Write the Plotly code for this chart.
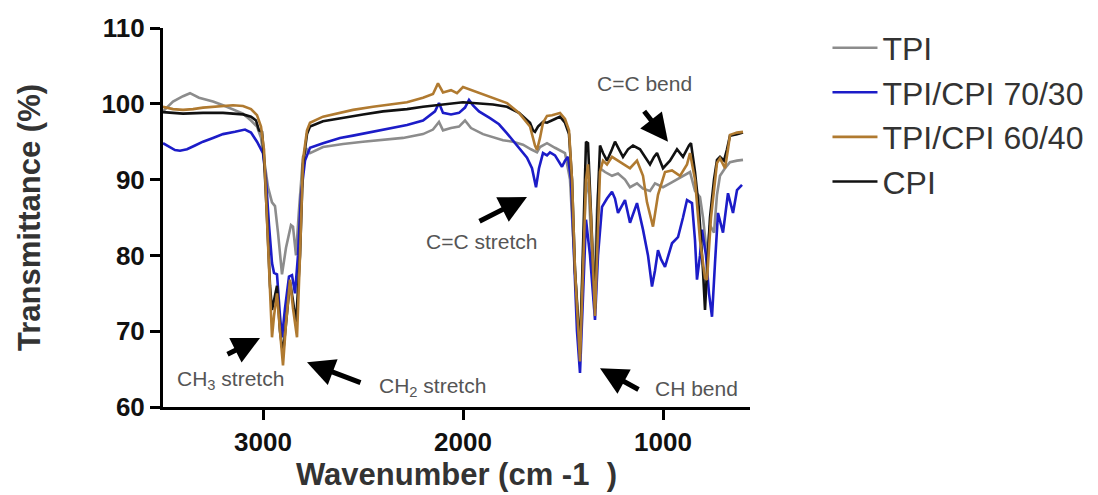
import plotly.graph_objects as go

# ---------------- data ----------------
tpi_w = [3500, 3450, 3400, 3365, 3320, 3250, 3200, 3150, 3100, 3060, 3030, 3010, 2990, 2975,
         2955, 2940, 2925, 2905, 2885, 2860, 2850, 2835, 2820, 2800, 2780, 2765, 2700, 2600,
         2500, 2400, 2300, 2200, 2150, 2120, 2100, 2060, 2020, 1990, 1960, 1900, 1850, 1800,
         1750, 1700, 1660, 1630, 1615, 1580, 1540, 1515, 1490, 1465, 1440, 1415, 1400, 1385,
         1370, 1345, 1330, 1315, 1290, 1255, 1225, 1190, 1165, 1130, 1100, 1065, 1040, 1000,
         965, 930, 900, 865, 840, 815, 800, 780, 765, 745, 730, 715, 690, 665, 630, 600]
tpi_t = [99.0, 100.3, 101.0, 101.4, 100.8, 100.3, 99.8, 99.3, 98.7, 97.8, 97.0, 95.5, 92.0, 89.0,
         87.0, 86.5, 83.0, 77.5, 81.0, 84.0, 83.8, 80.0, 86.0, 93.0, 94.0, 93.5, 94.3, 94.7,
         95.0, 95.3, 95.5, 96.0, 96.6, 97.6, 96.5, 96.8, 97.0, 97.8, 96.8, 96.0, 95.6, 95.2,
         95.0, 94.6, 94.0, 93.6, 94.3, 94.8, 94.2, 93.9, 93.5, 90.0, 78.0, 68.0, 78.0, 90.0,
         88.0, 74.0, 86.0, 91.5, 91.0, 90.5, 90.8, 90.0, 89.0, 89.5, 88.8, 88.5, 89.5, 89.0,
         89.5, 90.0, 90.5, 91.0, 88.5, 87.7, 85.0, 80.0, 84.0, 83.0, 88.0, 90.5, 91.5, 92.3, 92.5, 92.6]

b7030_w = [3500, 3470, 3440, 3415, 3380, 3340, 3300, 3250, 3200, 3140, 3090, 3060, 3030, 3000,
           2985, 2970, 2955, 2945, 2930, 2915, 2905, 2890, 2870, 2855, 2840, 2825, 2810, 2790,
           2765, 2700, 2615, 2550, 2450, 2350, 2280, 2200, 2165, 2140, 2120, 2100, 2060, 2020,
           1990, 1970, 1950, 1920, 1865, 1820, 1780, 1740, 1715, 1680, 1655, 1635, 1620, 1600,
           1580, 1565, 1540, 1505, 1490, 1475, 1460, 1445, 1430, 1415, 1400, 1385, 1365, 1340,
           1325, 1305, 1280, 1255, 1240, 1225, 1190, 1165, 1130, 1100, 1075, 1055, 1040, 1025,
           1010, 990, 955, 925, 900, 880, 855, 840, 830, 815, 805, 785, 770, 755, 740, 725,
           700, 675, 650, 630, 605]
b7030_t = [94.8, 94.3, 93.9, 93.8, 94.0, 94.5, 95.0, 95.5, 96.0, 96.3, 96.6, 96.2, 95.0, 93.5,
           90.0, 84.0, 79.0, 77.7, 77.5, 72.0, 69.2, 73.0, 77.2, 77.4, 75.0, 80.0, 88.0, 92.5,
           94.2, 94.8, 95.5, 95.8, 96.3, 96.8, 97.2, 97.8, 98.5, 99.0, 100.1, 98.8, 98.6, 98.8,
           99.5, 100.5, 99.8, 99.0, 98.1, 97.3, 96.1, 94.8, 93.9, 92.9, 91.5, 89.0, 91.5, 93.5,
           93.2, 93.6, 93.2, 91.7, 92.5, 93.0, 90.0, 80.0, 70.0, 64.5, 75.0, 84.7, 80.0, 71.5,
           80.0, 86.4, 87.5, 88.4, 87.5, 85.6, 87.3, 84.3, 86.9, 83.4, 80.0, 75.9, 78.0, 80.7,
           79.5, 78.5, 81.6, 82.4, 85.0, 87.3, 86.9, 82.0, 76.8, 80.0, 83.4, 80.0, 75.0, 71.9, 79.0, 85.6,
           83.0, 88.2, 85.6, 88.6, 89.3]

b6040_w = [3500, 3450, 3400, 3350, 3300, 3250, 3200, 3150, 3100, 3060, 3030, 3010, 2995, 2980,
           2965, 2955, 2945, 2930, 2915, 2900, 2885, 2865, 2850, 2830, 2815, 2800, 2780, 2765,
           2700, 2615, 2550, 2450, 2350, 2280, 2200, 2150, 2125, 2100, 2060, 2030, 2000, 1970,
           1950, 1900, 1850, 1780, 1720, 1665, 1640, 1630, 1615, 1600, 1580, 1555, 1515, 1490,
           1470, 1455, 1440, 1415, 1400, 1385, 1375, 1360, 1340, 1325, 1315, 1300, 1280, 1255,
           1225, 1200, 1165, 1130, 1100, 1080, 1050, 1025, 990, 955, 915, 880, 865, 840, 815,
           790, 780, 760, 730, 715, 690, 675, 665, 630, 600]
b6040_t = [99.6, 99.3, 99.2, 99.3, 99.5, 99.6, 99.7, 99.8, 99.7, 99.3, 98.5, 97.0, 94.0, 85.0,
           75.0, 69.2, 72.0, 75.0, 70.0, 65.5, 71.0, 76.8, 73.0, 69.2, 80.0, 92.6, 96.5, 97.5,
           98.3, 98.8, 99.2, 99.6, 100.0, 100.2, 100.8, 101.3, 102.7, 101.5, 101.8, 101.4, 102.2, 101.9,
           101.8, 101.2, 100.8, 100.1, 98.8, 97.0, 94.5, 93.9, 95.5, 97.5, 98.4, 98.5, 98.8, 98.0,
           96.5, 90.0, 78.0, 66.0, 78.0, 90.0, 92.0, 85.0, 72.0, 85.0, 91.0, 92.5, 92.0, 93.0,
           92.5, 92.0, 91.5, 92.5, 90.5, 87.0, 83.8, 88.0, 91.0, 91.2, 90.5, 92.0, 93.5, 90.0, 82.0,
           77.0, 76.8, 85.0, 92.2, 92.8, 91.5, 94.0, 95.9, 96.2, 96.3]

cpi_w = [3500, 3450, 3400, 3300, 3200, 3100, 3060, 3035, 3020, 3005, 2995, 2980, 2965, 2955,
         2945, 2930, 2915, 2900, 2885, 2865, 2850, 2835, 2815, 2800, 2780, 2765, 2700, 2615,
         2500, 2400, 2280, 2200, 2100, 2000, 1950, 1850, 1780, 1720, 1665, 1650, 1640, 1625,
         1600, 1580, 1540, 1515, 1490, 1470, 1455, 1440, 1415, 1400, 1385, 1375, 1355, 1340,
         1325, 1315, 1300, 1280, 1255, 1240, 1220, 1200, 1175, 1150, 1115, 1090, 1065, 1045,
         1030, 1000, 980, 965, 930, 900, 870, 860, 840, 820, 800, 790, 780, 765, 745, 730,
         715, 695, 680, 665, 630, 600]
cpi_t = [98.9, 98.8, 98.7, 98.8, 98.8, 98.6, 98.3, 97.8, 96.5, 96.3, 93.0, 85.0, 76.0, 72.8,
         74.0, 76.0, 70.0, 67.0, 71.0, 76.5, 74.0, 71.0, 80.0, 92.0, 96.0, 97.0, 97.7, 98.1,
         98.6, 99.0, 99.3, 99.6, 99.9, 100.2, 100.1, 99.9, 99.6, 98.8, 97.5, 96.5, 96.3, 97.0,
         97.6, 97.5, 98.0, 98.3, 97.5, 96.0, 90.0, 78.0, 67.0, 80.0, 95.0, 94.8, 82.0, 73.0,
         88.0, 94.5, 93.5, 92.5, 94.0, 95.0, 94.0, 93.0, 94.0, 94.5, 94.0, 93.0, 92.0, 93.0,
         93.5, 91.5, 92.0, 92.5, 94.0, 93.0, 94.5, 94.8, 91.0, 86.0, 78.0, 72.8, 78.0, 85.0, 90.0, 92.6,
         93.0, 92.5, 94.0, 95.8, 96.0, 96.2]

series_names = ["TPI", "TPI/CPI 70/30", "TPI/CPI 60/40", "CPI"]
series_colors = ["#8c8c8c", "#1c1cc8", "#b07a30", "#111111"]

x_ticks = [3000, 2000, 1000]
y_ticks = [60, 70, 80, 90, 100, 110]

FONT = "Liberation Sans, Arial, sans-serif"

fig = go.Figure()
# draw order: TPI, 70/30, CPI, 60/40 ; legend order via legendrank
draw = [(0, tpi_w, tpi_t), (1, b7030_w, b7030_t), (3, cpi_w, cpi_t), (2, b6040_w, b6040_t)]
for idx, w, t in draw:
    fig.add_trace(go.Scatter(
        x=w, y=t, mode="lines", name=series_names[idx],
        line=dict(color=series_colors[idx], width=2.6),
        legendrank=idx + 1, legendgroup=series_names[idx],
    ))

axis_common = dict(showgrid=False, zeroline=False, showline=True, linecolor="black",
                   linewidth=3, ticks="outside", ticklen=10, tickwidth=3, tickcolor="black",
                   tickfont=dict(family=FONT, size=26, color="#111111"))

fig.update_xaxes(range=[3500, 565], tickvals=x_ticks, ticktext=[f"<b>{v}</b>" for v in x_ticks],
                 title=dict(text="<b>Wavenumber (cm -1  )</b>", font=dict(family=FONT, size=31, color="#333333"),
                            standoff=8),
                 **axis_common)
fig.update_yaxes(range=[60, 110], tickvals=y_ticks, ticktext=[f"<b>{v}</b>" for v in y_ticks],
                 title=dict(text="<b>Transmittance (%)</b>", font=dict(family=FONT, size=31, color="#333333"),
                            standoff=52),
                 **axis_common)

ann_font = dict(family=FONT, size=21, color="#555555")
texts = [
    ("CH<sub>3</sub> stretch", 3165, 63.6),
    ("CH<sub>2</sub> stretch", 2155, 62.6),
    ("C=C stretch", 1910, 81.8),
    ("C=C bend", 1095, 102.7),
    ("CH bend", 835, 62.5),
]
for txt, xx, yy in texts:
    fig.add_annotation(x=xx, y=yy, text=txt, showarrow=False, font=ann_font,
                       xanchor="center", yanchor="middle")

arrows = [
    (3015, 69.1, -34, 17),
    (2780, 65.9, 55, 21),
    (1680, 87.7, -49, 25),
    (975, 95.0, -25, -32),
    (1315, 65.1, 40, 22),
]
for xx, yy, axp, ayp in arrows:
    fig.add_annotation(x=xx, y=yy, ax=axp, ay=ayp, text="", showarrow=True,
                       arrowhead=2, arrowsize=1.1, arrowwidth=5, arrowcolor="black",
                       standoff=0, startstandoff=0)

fig.update_layout(
    width=1098, height=495,
    margin=dict(l=163, r=348, t=28, b=88, autoexpand=False),
    paper_bgcolor="white", plot_bgcolor="white",
    font=dict(family=FONT),
    legend=dict(x=1.132, y=1.02, xanchor="left", yanchor="top",
                font=dict(family=FONT, size=32, color="#333333"),
                tracegroupgap=0, itemwidth=45, bgcolor="rgba(0,0,0,0)"),
    showlegend=True,
)

fig.write_html("out.html")
